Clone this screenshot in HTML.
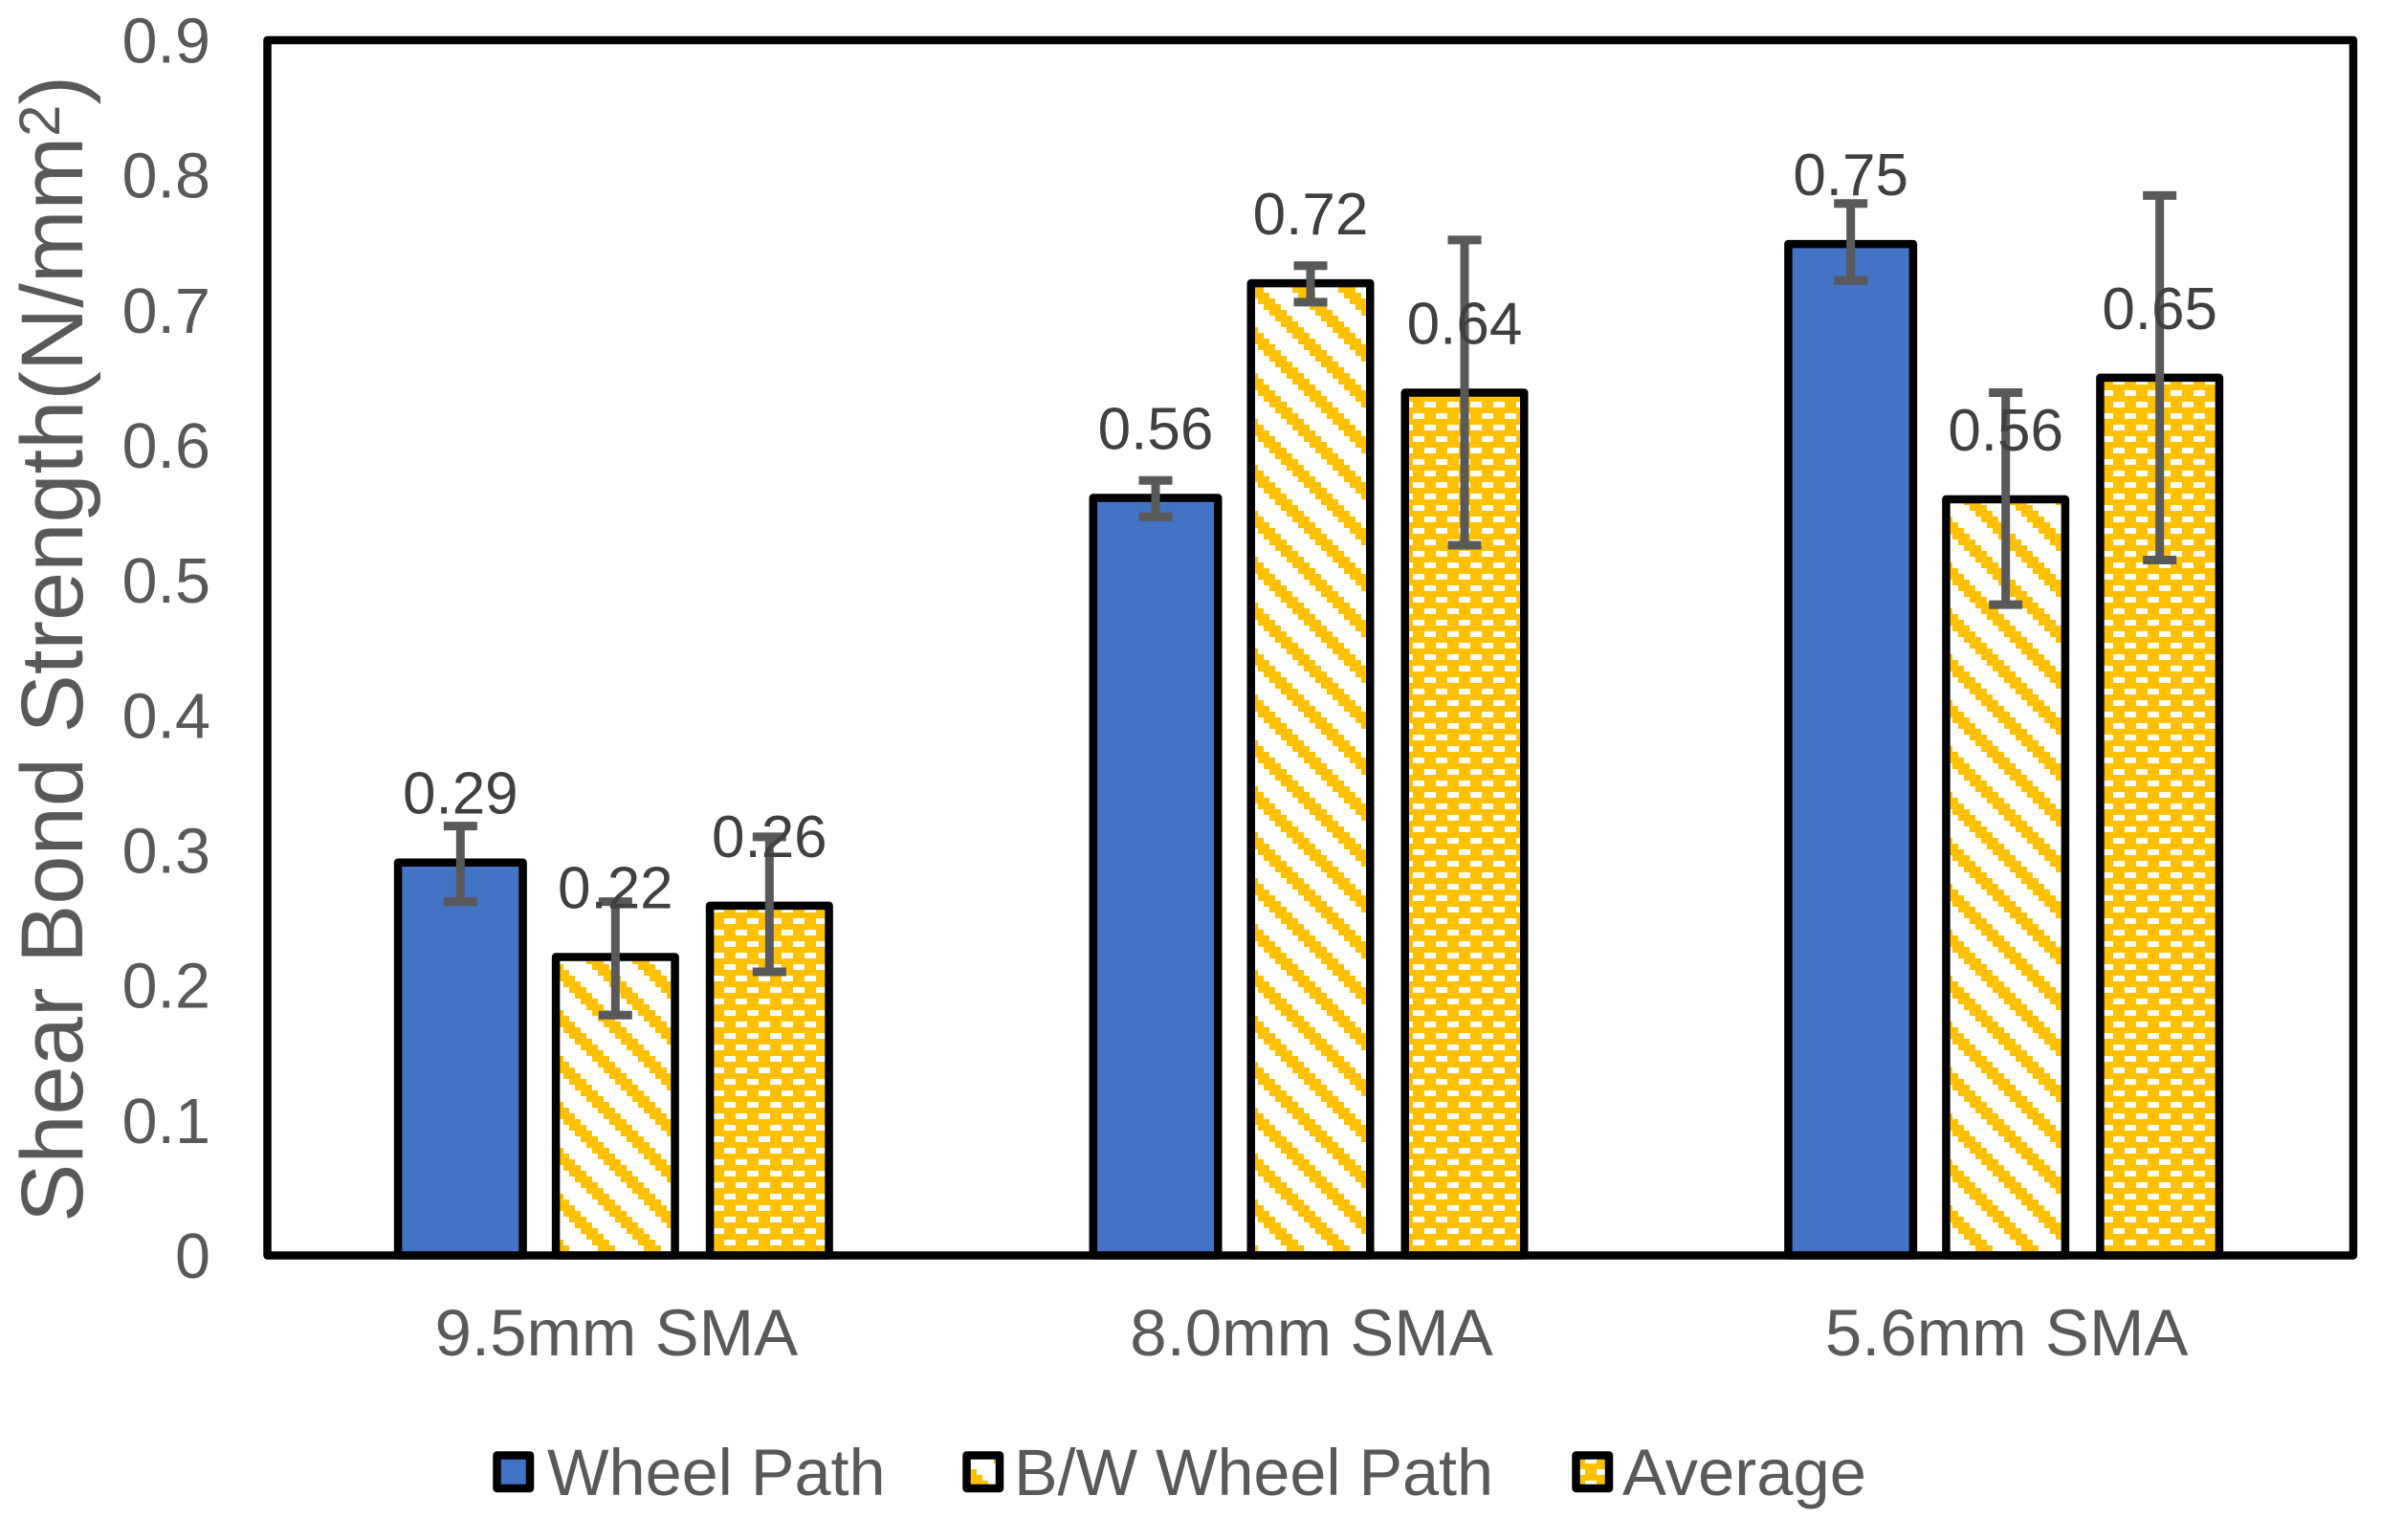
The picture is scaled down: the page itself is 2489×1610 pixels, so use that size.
<!DOCTYPE html>
<html lang="en">
<head>
<meta charset="utf-8">
<title>Shear Bond Strength</title>
<style>
html,body{margin:0;padding:0;background:#fff;width:2489px;height:1610px;overflow:hidden}
svg{display:block}
text{font-family:"Liberation Sans",Arial,sans-serif}
</style>
</head>
<body>
<svg id="chart" xmlns="http://www.w3.org/2000/svg" width="2489" height="1610" viewBox="0 0 2489 1610">
  <defs>
    <pattern id="diag" patternUnits="userSpaceOnUse" x="1" y="0" width="48" height="48" shape-rendering="crispEdges">
      <rect x="0" y="0" width="48" height="48" fill="#ffffff"/>
      <g fill="#FFC000">
        <rect x="42" y="0" width="6" height="6"/><rect x="0" y="0" width="12" height="6"/>
        <rect x="0" y="6" width="18" height="6"/>
        <rect x="6" y="12" width="18" height="6"/>
        <rect x="12" y="18" width="18" height="6"/>
        <rect x="18" y="24" width="18" height="6"/>
        <rect x="24" y="30" width="18" height="6"/>
        <rect x="30" y="36" width="18" height="6"/>
        <rect x="36" y="42" width="12" height="6"/><rect x="0" y="42" width="6" height="6"/>
      </g>
    </pattern>
    <pattern id="dash" patternUnits="userSpaceOnUse" x="1" y="0" width="24" height="24" shape-rendering="crispEdges">
      <rect x="0" y="0" width="24" height="24" fill="#FFC000"/>
      <rect x="12" y="0" width="12" height="6" fill="#ffffff"/>
      <rect x="0" y="12" width="12" height="6" fill="#ffffff"/>
    </pattern>
  </defs>

  <rect x="0" y="0" width="2489" height="1610" fill="#ffffff"/>
  <g id="bars"></g>
  <rect x="279.5" y="42" width="2180.5" height="1270.5" fill="none" stroke="#000000" stroke-width="8.5" stroke-linejoin="round"/>
  <g id="errors"></g>
  <g id="labels"></g>
  <g id="yticks"></g>
  <g id="xticks"></g>

  <text transform="translate(86,1278) rotate(-90)" font-size="92" fill="#595959">Shear Bond Strength(N/mm<tspan dy="-24" font-size="60">2</tspan><tspan dy="24">)</tspan></text>

  <g>
    <g>
      <rect x="519.5" y="1521.5" width="34.5" height="34.5" fill="#4472C4" stroke="#000" stroke-width="8.5" stroke-linejoin="round"/>
      <text x="572" y="1563" font-size="68.4" fill="#595959">Wheel Path</text>
    </g>
    <g>
      <rect x="1010.5" y="1521.5" width="34.5" height="34.5" fill="url(#diag)" stroke="#000" stroke-width="8.5" stroke-linejoin="round"/>
      <text x="1060" y="1563" font-size="68.4" fill="#595959" textLength="501">B/W Wheel Path</text>
    </g>
    <g>
      <rect x="1647.5" y="1521.5" width="34.5" height="34.5" fill="url(#dash)" stroke="#000" stroke-width="8.5" stroke-linejoin="round"/>
      <text x="1696" y="1563" font-size="68.8" fill="#595959">Average</text>
    </g>
  </g>
</svg>
<script>
const categories = ['9.5mm SMA', '8.0mm SMA', '5.6mm SMA'];
const yTickLabels = ['0', '0.1', '0.2', '0.3', '0.4', '0.5', '0.6', '0.7', '0.8', '0.9'];
const yTickValues = [0, 0.1, 0.2, 0.3, 0.4, 0.5, 0.6, 0.7, 0.8, 0.9];

const wheelPath = [0.291, 0.561, 0.749];
const bwWheelPath = [0.221, 0.720, 0.560];
const average = [0.259, 0.639, 0.650];

const wheelPathUpper = [0.318, 0.574, 0.779];
const wheelPathLower = [0.262, 0.547, 0.722];
const bwWheelPathUpper = [0.262, 0.733, 0.639];
const bwWheelPathLower = [0.178, 0.706, 0.482];
const averageUpper = [0.310, 0.752, 0.785];
const averageLower = [0.210, 0.526, 0.515];

const SVGNS = 'http://www.w3.org/2000/svg';
const AXIS_X0 = 280, AXIS_X1 = 2460, AXIS_Y0 = 1312.5, AXIS_YTOP = 42, Y_MAX = 0.9;
const bandW = (AXIS_X1 - AXIS_X0) / categories.length;
function yScale(v) { return AXIS_Y0 - (v / Y_MAX) * (AXIS_Y0 - AXIS_YTOP); }
function xBand(i) { return AXIS_X0 + bandW * (i + 0.5); }
function make(tag, parent, attrs) {
  const el = document.createElementNS(SVGNS, tag);
  for (const k in attrs) el.setAttribute(k, attrs[k]);
  parent.appendChild(el);
  return el;
}

const barsG = document.getElementById('bars');
const errG = document.getElementById('errors');
const labG = document.getElementById('labels');
const yG = document.getElementById('yticks');
const xG = document.getElementById('xticks');

const seriesList = [
  { key: 'wheel-path', vals: wheelPath, up: wheelPathUpper, lo: wheelPathLower, fill: '#4472C4', off: -162, w: 130.5 },
  { key: 'bw-wheel-path', vals: bwWheelPath, up: bwWheelPathUpper, lo: bwWheelPathLower, fill: 'url(#diag)', off: 0, w: 124.5 },
  { key: 'average', vals: average, up: averageUpper, lo: averageLower, fill: 'url(#dash)', off: 161, w: 124.5 }
];

seriesList.forEach(function (s) {
  s.vals.forEach(function (v, i) {
    const cx = xBand(i) + s.off;
    const top = yScale(v);
    const bar = make('rect', barsG, {
      x: cx - s.w / 2, y: top, width: s.w, height: AXIS_Y0 - top,
      fill: s.fill, stroke: '#000000', 'stroke-width': 8.5, 'stroke-linejoin': 'round'
    });
    
    

    const yU = yScale(s.up[i]), yL = yScale(s.lo[i]);
    const whisker = make('line', errG, { x1: cx, x2: cx, y1: yU, y2: yL, stroke: '#595959', 'stroke-width': 9 });
    
    
    const capU = make('line', errG, { x1: cx - 17.5, x2: cx + 17.5, y1: yU, y2: yU, stroke: '#595959', 'stroke-width': 9 });
    
    
    const capL = make('line', errG, { x1: cx - 17.5, x2: cx + 17.5, y1: yL, y2: yL, stroke: '#595959', 'stroke-width': 9 });
    
    

    const lab = make('text', labG, { x: cx, y: top - 51, 'font-size': 62, fill: '#404040', 'text-anchor': 'middle' });
    lab.textContent = v.toFixed(2);
    
    
  });
});

yTickValues.forEach(function (v, i) {
  const t = make('text', yG, { x: 220, y: yScale(v) + 23.5, 'font-size': 66.5, fill: '#595959', 'text-anchor': 'end' });
  t.textContent = yTickLabels[i];
  
  
});

categories.forEach(function (c, i) {
  const t = make('text', xG, { x: xBand(i) + 1, y: 1417, 'font-size': 69, fill: '#595959', 'text-anchor': 'middle' });
  t.textContent = c;
  
  
});
</script>
</body>
</html>
